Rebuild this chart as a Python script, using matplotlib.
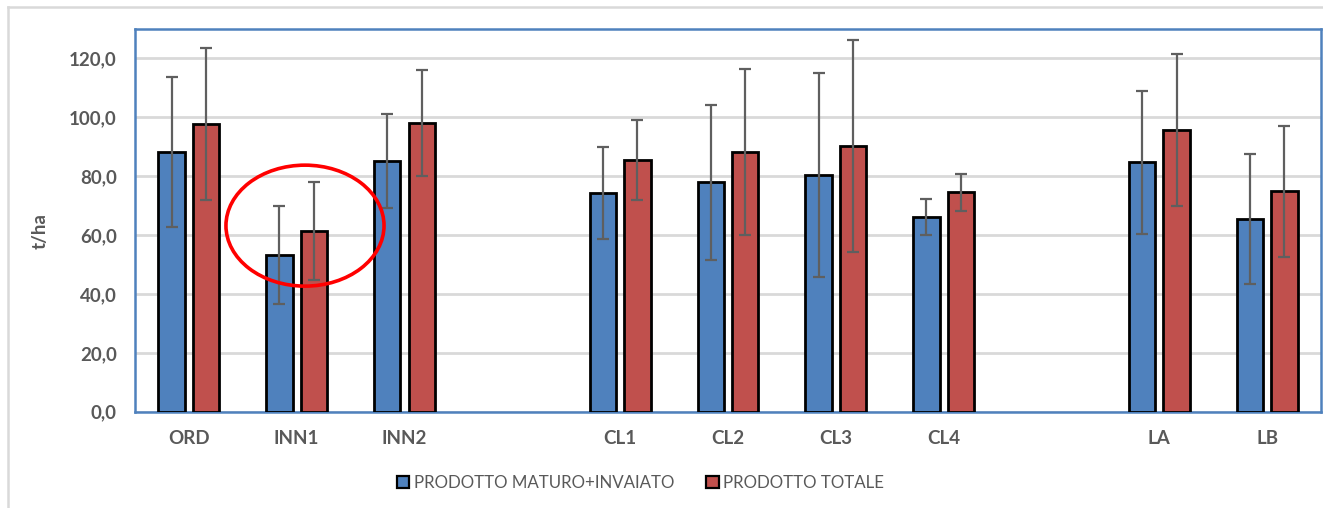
import numpy as np
import matplotlib
matplotlib.use("Agg")
import matplotlib.pyplot as plt
from matplotlib.patches import Ellipse, Patch
from matplotlib.lines import Line2D
from matplotlib.ticker import FuncFormatter

nan = np.nan

# categories (empty strings are the blank slots between groups)
categories = ["ORD", "INN1", "INN2", "", "CL1", "CL2", "CL3", "CL4", "", "LA", "LB"]

maturo = [88.3, 53.2, 85.2, nan, 74.4, 77.9, 80.4, 66.0, nan, 84.7, 65.4]
maturo_err = [25.5, 16.7, 16.0, nan, 15.6, 26.4, 34.6, 6.1, nan, 24.4, 22.0]

totale = [97.7, 61.5, 98.1, nan, 85.6, 88.2, 90.2, 74.5, nan, 95.7, 74.8]
totale_err = [25.9, 16.6, 18.0, nan, 13.6, 28.3, 36.1, 6.2, nan, 25.8, 22.3]

series_names = ["PRODOTTO MATURO+INVAIATO", "PRODOTTO TOTALE"]
yticks = [0, 20, 40, 60, 80, 100, 120]
highlight = "INN1"

blue, red = "#4f81bd", "#c0504d"
text_gray = "#595959"
grid_gray = "#d9d9d9"

plt.rcParams['font.family'] = ['Lato', 'DejaVu Sans']

fig = plt.figure(figsize=(13.23, 5.08), dpi=100)
ax = fig.add_axes([0.102, 0.1896, 0.8965, 0.7533])

x = np.arange(len(categories))
w = 0.245
off = 0.16

for vals, errs, col, sgn in [(maturo, maturo_err, blue, -1), (totale, totale_err, red, 1)]:
    ax.bar(x + sgn * off, vals, width=w, color=col, edgecolor="black", linewidth=2.0, zorder=3)
    ax.errorbar(x + sgn * off, vals, yerr=errs, fmt="none", ecolor="#5f5f5f",
                elinewidth=1.6, capsize=4, capthick=1.6, zorder=4)

# red circle around the highlighted group
hi = categories.index(highlight)
ax.add_patch(Ellipse((hi + 0.077, 63.2), 1.466, 41.1, fill=False, edgecolor="#ff0000",
                     linewidth=2.6, zorder=5))

ax.set_xlim(-0.5, len(categories) - 0.5)
ax.set_ylim(0, 130)
ax.set_yticks(yticks)
ax.yaxis.set_major_formatter(FuncFormatter(lambda v, p: f"{v:.1f}".replace(".", ",")))
ax.set_xticks(x)
ax.set_xticklabels(categories)
ax.tick_params(axis="both", length=0, colors=text_gray, labelsize=13.5)
ax.tick_params(axis="y", pad=13)
ax.tick_params(axis="x", pad=13)
for lab in ax.get_xticklabels() + ax.get_yticklabels():
    lab.set_fontweight("bold")

ax.grid(axis="y", color=grid_gray, linewidth=2, zorder=0)
ax.set_axisbelow(True)
for sp in ax.spines.values():
    sp.set_color(blue)
    sp.set_linewidth(1.8)

fig.text(0.030, 0.545, "t/ha", rotation=90, ha="center", va="center",
         fontsize=13.5, fontweight="bold", color=text_gray)

handles = [Patch(facecolor=blue, edgecolor="black", linewidth=1.6),
           Patch(facecolor=red, edgecolor="black", linewidth=1.6)]
fig.legend(handles, series_names, loc="center", bbox_to_anchor=(0.484, 0.049), ncol=2,
           frameon=False, fontsize=12.2, labelcolor=text_gray, handlelength=0.75,
           handleheight=0.75, handletextpad=0.25, columnspacing=1.9)

# outer chart frame (partly outside the picture)
fig.add_artist(Line2D([8 / 1323, 8 / 1323], [0, 501 / 508], color=grid_gray, linewidth=1.8))
fig.add_artist(Line2D([8 / 1323, 1], [501 / 508, 501 / 508], color=grid_gray, linewidth=1.8))

fig.savefig("out.png", dpi=100)
